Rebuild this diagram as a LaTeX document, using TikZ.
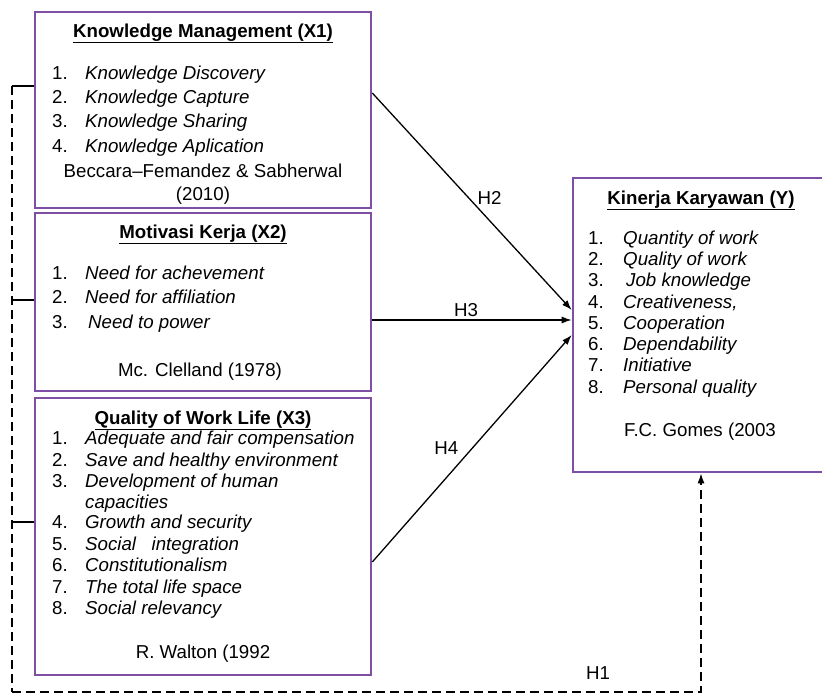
\documentclass[tikz,border=0pt]{standalone}
\usepackage{fontspec}
\setmainfont{Liberation Sans}
\usetikzlibrary{arrows.meta, calc}
\definecolor{boxpurple}{HTML}{7F4FA6}

\begin{document}
\begin{tikzpicture}[
      x=1pt,
      y=-1pt,
      font=\fontsize{18.7}{21}\selectfont,
      varbox/.style={
        draw=boxpurple,
        line width=2.6pt,
        rectangle,
        inner sep=0pt
      },
      boxtitle/.style={
        font=\fontsize{18.7}{21}\selectfont\bfseries,
        anchor=mid,
        yshift=-3.5pt
      },
      itemnum/.style={
        anchor=mid west,
        inner sep=0pt,
        yshift=-3.5pt
      },
      itemtext/.style={
        anchor=mid west,
        inner sep=0pt,
        yshift=-3.5pt,
        font=\fontsize{18.7}{21}\selectfont\itshape
      },
      source/.style={
        anchor=mid,
        inner sep=0pt,
        yshift=-3.5pt
      },
      hypo/.style={
        -{Latex[length=10pt, width=7pt]},
        line width=1.3pt,
        draw=black
      },
      linkdash/.style={
        line width=1.4pt,
        dash pattern=on 9pt off 5pt
      }
  ]

    \useasboundingbox (0,0) rectangle (822,693);

    % Kotak variabel
    \node[varbox, minimum width=336pt, minimum height=196pt] (x1) at (203,110) {};
    \node[varbox, minimum width=336pt, minimum height=178pt] (x2) at (203,302) {};
    \node[varbox, minimum width=336pt, minimum height=277pt] (x3) at (203,536.5) {};
    \node[varbox, minimum width=256pt, minimum height=294pt] (ky) at (701,325) {};

    % Knowledge Management
    \node[boxtitle] (x1t) at (203,31) {\underline{Knowledge Management (X1)}};
    \foreach \t [count=\i, evaluate=\i as \yy using 73+24.3*(\i-1)] in
      {Knowledge Discovery, Knowledge Capture, Knowledge Sharing, Knowledge Aplication} {
      \node[itemnum] (x1n\i) at (52,\yy) {\i.};
      \node[itemtext] (x1i\i) at (85,\yy) {\t};
    }
    \node[source] (x1s) at (203,171) {Beccara–Femandez \& Sabherwal};
    \node[source] (x1y) at (203,194) {(2010)};

    % Motivasi Kerja
    \node[boxtitle] (x2t) at (203,232) {\underline{Motivasi Kerja (X2)}};
    \foreach \t [count=\i, evaluate=\i as \yy using 273+24.5*(\i-1)] in
      {Need for achevement, Need for affiliation, \hspace{3pt}Need to power} {
      \node[itemnum] (x2n\i) at (52,\yy) {\i.};
      \node[itemtext] (x2i\i) at (85,\yy) {\t};
    }
    \node[source] (x2s) at (200,370) {Mc. Clelland (1978)};

    % Quality of Work Life
    \node[boxtitle] (x3t) at (203,418) {\underline{Quality of Work Life (X3)}};
    \foreach \yy/\n/\t in
      {438/1/Adequate and fair compensation, 460/2/Save and healthy environment,
       481/3/Development of human, 522/4/Growth and security,
       544/5/Social~~~integration, 565/6/Constitutionalism,
       587/7/The total life space, 608/8/Social relevancy} {
      \node[itemnum] (x3n\n) at (52,\yy) {\n.};
      \node[itemtext] (x3i\n) at (85,\yy) {\t};
    }
    \node[itemtext] (x3i3b) at (85,502) {capacities};
    \node[source] (x3s) at (203,652) {R. Walton (1992};

    % Kinerja Karyawan
    \node[boxtitle] (kyt) at (701,198) {\underline{Kinerja Karyawan (Y)}};
    \foreach \t [count=\i, evaluate=\i as \yy using 238+21.3*(\i-1)] in
      {Quantity of work, Quality of work, \hspace{3pt}Job knowledge, {Creativeness,},
       Cooperation, Dependability, Initiative, Personal quality} {
      \node[itemnum] (kyn\i) at (588,\yy) {\i.};
      \node[itemtext] (kyi\i) at (623,\yy) {\t};
    }
    \node[source] (kys) at (700,430) {F.C. Gomes (2003};

    % Hipotesis parsial
    \draw[hypo] ([yshift=17pt]x1.east) -- ([yshift=15pt]ky.west)
      node[pos=0.52, above right, inner sep=1pt] (h2) {H2};
    \draw[hypo] ([yshift=-18pt]x2.east) -- ([yshift=5pt]ky.west)
      node[pos=0.47, above, inner sep=3pt] (h3) {H3};
    \draw[hypo] ([yshift=-25.5pt]x3.east) -- ([yshift=-10pt]ky.west)
      node[pos=0.455, above left, inner sep=4pt] (h4) {H4};

    % Hipotesis simultan
    \coordinate (busTop) at (12,86);
    \coordinate (busBot) at (12,692);
    \draw[line width=1.3pt] ([yshift=24pt]x1.west) -- (busTop);
    \draw[line width=1.3pt] ([yshift=2pt]x2.west) -- (12,300);
    \draw[line width=1.3pt] ([yshift=14.5pt]x3.west) -- (12,522);
    \draw[linkdash] (busTop) -- (busBot);
    \draw[linkdash, -{Latex[length=10pt, width=7pt]}] (busBot) -| (ky.south);
    \node (h1) at (598,673) {H1};

  \end{tikzpicture}
\end{document}
